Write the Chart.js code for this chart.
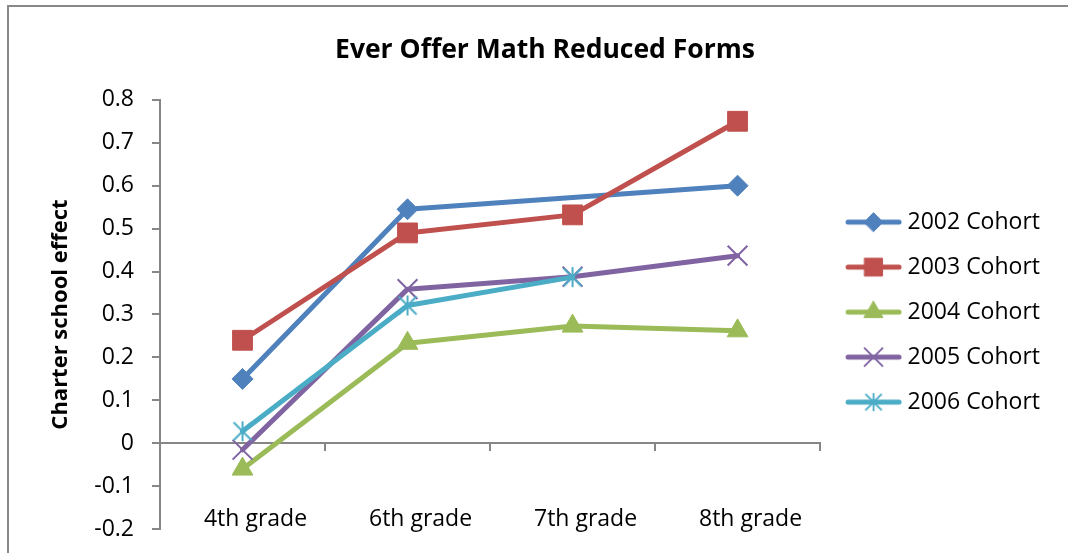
<!DOCTYPE html>
<html>
<head>
<meta charset="utf-8">
<script src="https://cdn.jsdelivr.net/npm/chart.js@4"></script>
<style>
  html, body { margin: 0; padding: 0; background: #fff; }
  #wrap { position: relative; width: 1068px; height: 553px; overflow: hidden; }
  #frame { position: absolute; left: 7px; top: 5px; width: 1100px; height: 600px;
           border-left: 2px solid #898989; border-top: 2px solid #898989; pointer-events: none; }
  canvas { position: absolute; left: 0; top: 0; }
</style>
</head>
<body>
<div id="wrap">
  <canvas id="chart" width="1068" height="561"></canvas>
  <div id="frame"></div>
</div>
<script>
// categories
const grades = ["4th grade", "6th grade", "7th grade", "8th grade"];
const cohorts = ["2002 Cohort", "2003 Cohort", "2004 Cohort", "2005 Cohort", "2006 Cohort"];

// series values (null = no value for that grade)
const cohort2002 = [0.15, 0.545, null, 0.60];
const cohort2003 = [0.24, 0.49, 0.532, 0.75];
const cohort2004 = [-0.06, 0.233, 0.273, 0.262];
const cohort2005 = [-0.015, 0.359, 0.388, 0.437];
const cohort2006 = [0.028, 0.321, 0.387, null];

// y axis ticks
const yMin = -0.2;
const yMax = 0.8;
const yStep = 0.1;

const seriesData = [cohort2002, cohort2003, cohort2004, cohort2005, cohort2006];
const colors = ["#4F81BD", "#C0504D", "#9BBB59", "#8064A2", "#4BACC6"];
const markerRadius = [10.5, 14, 12, 14, 11];
const markerBorder = [1, 1, 1, 2, 2];

//Excel style star: vertical bar plus an X
function starMarker(color, size) {
  const c = document.createElement("canvas");
  c.width = size;
  c.height = size;
  const ctx = c.getContext("2d");
  const m = size / 2, d = size / 2 - 2;
  ctx.strokeStyle = color;
  ctx.lineWidth = 2;
  ctx.beginPath();
  ctx.moveTo(m, 1); ctx.lineTo(m, size - 1);
  ctx.moveTo(m - d, m - d); ctx.lineTo(m + d, m + d);
  ctx.moveTo(m + d, m - d); ctx.lineTo(m - d, m + d);
  ctx.stroke();
  return c;
}
const markers = ["rectRot", "rect", "triangle", "crossRot", starMarker(colors[4], 22)];

const axisGray = "#868686";
const fontFamily = "'Open Sans', sans-serif";

//small line+marker pictures for the legend, drawn right of centre
//so the legend box starts right at the plot edge
function legendIcon(i) {
  const c = document.createElement("canvas");
  c.width = 70;
  c.height = 28;
  const ctx = c.getContext("2d");
  ctx.strokeStyle = colors[i];
  ctx.fillStyle = colors[i];
  ctx.lineWidth = 5;
  ctx.lineCap = "round";
  ctx.beginPath();
  ctx.moveTo(14, 14);
  ctx.lineTo(65, 14);
  ctx.stroke();
  ctx.lineWidth = markerBorder[i];
  if (typeof markers[i] === "string") {
    Chart.helpers.drawPoint(ctx, {
      pointStyle: markers[i],
      radius: markerRadius[i] * 0.9,
      rotation: 0,
      borderWidth: markerBorder[i]
    }, 39.5, 14);
  } else {
    ctx.drawImage(markers[i], 39.5 - 10, 14 - 10, 20, 20);
  }
  return c;
}
const legendIcons = cohorts.map((_, i) => legendIcon(i));

const datasets = cohorts.map((name, i) => ({
  label: name,
  data: seriesData[i],
  borderColor: colors[i],
  backgroundColor: colors[i],
  borderWidth: 5,
  borderJoinStyle: "round",
  borderCapStyle: "round",
  pointStyle: markers[i],
  pointRadius: markerRadius[i],
  pointHoverRadius: markerRadius[i],
  pointBorderWidth: markerBorder[i],
  spanGaps: true,
  tension: 0,
  order: -i
}));

new Chart(document.getElementById("chart"), {
  type: "line",
  data: { labels: grades, datasets: datasets },
  options: {
    responsive: false,
    animation: false,
    layout: { padding: { left: 40, right: 18, top: 0, bottom: 26 } },
    plugins: {
      tooltip: { enabled: false },
      title: {
        display: true,
        text: "Ever Offer Math Reduced Forms",
        color: "#000",
        font: { family: fontFamily, size: 26.5, weight: "bold" },
        padding: { top: 35, bottom: 33 }
      },
      legend: {
        position: "right",
        align: "center",
        //empty title only pushes the entries down to the plot's middle
        title: { display: true, text: " ", font: { size: 1 }, padding: { top: 0, bottom: 88 } },
        labels: {
          usePointStyle: true,
          pointStyleWidth: 54,
          padding: 22,
          color: "#000",
          font: { family: fontFamily, size: 23 },
          generateLabels: (chart) => chart.data.datasets.map((ds, i) => ({
            text: ds.label,
            pointStyle: legendIcons[i],
            fillStyle: ds.borderColor,
            strokeStyle: ds.borderColor,
            lineWidth: 0,
            fontColor: "#000",
            hidden: false,
            datasetIndex: i
          }))
        }
      }
    },
    scales: {
      x: {
        type: "category",
        position: { y: 0 },
        offset: true,
        grid: { offset: true, drawOnChartArea: false, drawTicks: true, tickLength: 7, color: axisGray, lineWidth: 2 },
        border: { display: true, color: axisGray, width: 2 },
        ticks: { color: "#000", font: { family: fontFamily, size: 23 }, padding: 55, labelOffset: 13, maxRotation: 0, autoSkip: false }
      },
      y: {
        type: "linear",
        position: "left",
        min: yMin,
        max: yMax,
        afterFit: (s) => { s.width = 120; },
        ticks: {
          stepSize: yStep,
          color: "#000",
          padding: 18,
          font: { family: fontFamily, size: 23 },
          callback: (v) => String(+v.toFixed(1))
        },
        grid: { drawOnChartArea: false, drawTicks: true, tickLength: 8, color: axisGray, lineWidth: 2 },
        border: { display: true, color: axisGray, width: 2 },
        title: {
          display: true,
          text: "Charter school effect",
          color: "#000",
          font: { family: fontFamily, size: 22, weight: "bold" },
          padding: { top: 8, bottom: 0 }
        }
      }
    }
  }
});
</script>
</body>
</html>
